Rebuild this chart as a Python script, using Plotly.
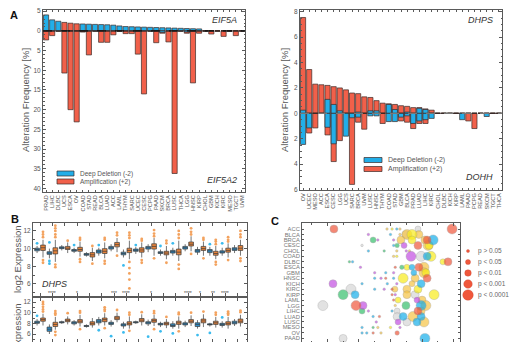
import plotly.graph_objects as go

# ======================= DATA =======================
# Panel A (left): EIF5A (up) / EIF5A2 (down)
cats_a1 = ["PRAD","LIHC","DLBC","UCS","ESCA","OV","COAD","STAD","READ","BLCA","LUAD","ACC","LAML",
           "THYM","SARC","UCEC","CESC","PCPG","PAAD","SKCM","BRCA","LUSC","THCA","LGG","HNSC","KIRP",
           "CHOL","GBM","KICH","KIRC","MESO","TGCT","UVM"]
eif5a_del = [4.05,2.8,2.45,0,0,0,1.75,1.7,1.65,1.6,1.55,1.45,1.25,1.1,1.05,1.0,0.95,0.9,0.85,0.8,
             0.75,0.7,0.65,0.6,0.55,0.5,0,0,0,0,0,0,0]
eif5a_amp = [0,0,0,2.15,1.95,1.8,0,0,0,0,0,0,0,0,0,0,0,0,0,0,0,0,0,0,0,0,0,0,0,0,0,0,0]
eif5a2_amp = [2.3,1.2,0,10.7,20.0,23.1,0.3,6.1,0,2.9,2.9,1.0,0,0.7,0.7,5.9,16.0,0,3.0,0.6,2.8,36.2,
              0,0.6,13.2,0.6,0,0.8,0,1.4,0,1.2,0]
eif5a2_del = [0,0,0,0,0,0,0,0,0,0,0,0,0,0,0,0,0,0,0,0.4,0,0,0,0.3,0,0,0,0,0,0,0,0,0]

# Panel A (right): DHPS (up) / DOHH (down)
cats_a2 = ["OV","UCEC","MESO","ACC","ESCA","CESC","LGG","UCS","SARC","BRCA","UVM","LUSC","HNSC",
           "THYM","COAD","STAD","GBM","BLCA","PRAD","LUAD","LIHC","KIRC","CHOL","DLBC","KICH","KIRP",
           "LAML","PAAD","PCPG","READ","SKCM","TGCT","THCA"]
dhps_amp = [7.55,3.45,2.3,2.25,2.2,2.1,2.0,1.85,1.6,1.55,1.3,1.25,1.0,0.8,0.75,0.7,0.6,0.55,0.45,
            0.45,0.35,0.25,0,0,0,0,0,0,0,0,0,0,0]
dhps_del = [0.25,0,0,0,1.1,0.7,0.2,0,0,0.1,0,0.2,0.2,0,0.7,0.3,0,0.1,0,0.4,0.3,0,0,0,0,0,0,0,0,0,0,0,0]
dohh_amp = [0,1.55,1.15,0,1.7,3.8,2.15,0,5.6,0.7,1.25,0,0,0.8,0,0,0.6,0.7,1.2,0.8,0.8,0,0,0,0,0,0,
            0.6,1.2,0,0,0,0]
dohh_del = [2.45,1.15,0,0,1.1,2.4,0,1.8,0.35,0.3,0,0.2,0.2,0,0.65,0.65,0.3,0.2,0.8,0.6,0.5,0.4,0,0,
            0,0,0.5,0,0,0,0.25,0,0]
tick_a1 = [5,0,-5,-10,-15,-20,-25,-30,-35,-40]
tick_a2 = [8,6,4,2,0,-2,-4,-6]

# Panel B: expression boxes (normal = blue, tumour = orange), 17 cancer types
pos_b = list(range(1, 18))
dhps_n_med = [9.9,9.5,10.1,9.8,9.35,9.7,10.1,9.45,9.8,10.1,9.55,9.65,10.1,9.75,9.75,9.6,9.95]
dhps_n_q1 = [9.75,9.35,10.0,9.7,9.25,9.5,9.95,9.3,9.7,9.95,9.45,9.5,9.95,9.6,9.55,9.5,9.8]
dhps_n_q3 = [10.05,9.65,10.2,9.9,9.45,9.85,10.25,9.6,9.95,10.25,9.65,9.8,10.25,9.9,9.9,9.75,10.1]
dhps_n_lo = [9.5,8.9,9.8,9.5,9.1,9.2,9.7,9.0,9.4,9.6,9.2,9.2,9.7,9.3,9.2,9.2,9.5]
dhps_n_hi = [10.3,10.0,10.4,10.1,9.6,10.1,10.5,9.9,10.2,10.5,9.9,10.1,10.5,10.2,10.2,10.1,10.4]
dhps_t_med = [10.1,9.75,10.05,9.9,9.3,9.7,10.45,9.8,9.85,10.25,9.5,9.6,10.5,10.0,9.45,9.8,10.05]
dhps_t_q1 = [9.8,9.4,9.9,9.7,9.05,9.45,10.2,9.55,9.6,9.95,9.3,9.3,10.3,9.8,9.25,9.6,9.8]
dhps_t_q3 = [10.4,10.1,10.25,10.15,9.55,10.0,10.7,10.05,10.1,10.55,9.7,9.95,10.75,10.25,9.7,10.05,10.35]
dhps_t_lo = [9.0,8.5,9.5,9.1,8.6,8.9,9.6,8.8,9.0,9.2,8.8,8.6,9.7,9.2,8.8,9.0,9.2]
dhps_t_hi = [11.0,11.0,10.7,10.8,10.1,10.7,11.2,10.9,10.7,11.2,10.3,10.9,11.4,10.8,10.3,10.6,11.0]
dhps_t_out = [[11.3,11.6,11.9,8.7,8.4],[11.3,11.6,12.0,12.3,12.6,8.2,7.9],[10.9],[11.0,11.2,8.8,8.5],
              [8.3,10.3],[11.0,11.2,8.6,8.3],[11.5,11.8,9.2],[11.2,11.5,11.8,8.5,7.8,7.2,6.5,5.5],
              [10.9,11.1,8.7,8.4],[11.4,11.7,12.1,8.9],[10.6,10.9,8.4],[11.2,11.6,12.0,8.2,7.7],
              [11.6,11.9,12.3,9.4],[11.0,11.2,8.9],[10.5,10.8,11.0,8.5,8.2],[10.8,11.0,11.3,8.7],
              [11.3,11.6,12.0,8.9,8.6]]
dhps_n_out = [[10.6],[10.7,8.6,8.3],[],[10.4],[],[10.4],[],[8.1],[10.4],[],[10.3],[10.6],[],[],
              [10.5],[10.6],[]]
dhps_stars = ["","****","","*","","","***","****","","*","","","****","*","**","****",""]

dohh_n_med = [8.2,6.9,8.2,8.1,7.5,8.4,8.0,7.7,8.2,8.1,7.85,7.6,7.9,7.8,7.8,7.8,8.1]
dohh_n_q1 = [8.0,6.5,8.1,7.9,7.4,8.1,7.8,7.5,8.1,7.9,7.7,7.4,7.7,7.4,7.7,7.6,7.9]
dohh_n_q3 = [8.4,7.3,8.3,8.3,7.6,8.7,8.2,7.9,8.3,8.3,8.0,7.9,8.1,8.1,7.9,8.0,8.4]
dohh_n_lo = [7.6,6.0,7.9,7.6,7.2,7.6,7.4,7.0,7.9,7.5,7.3,7.0,7.3,7.0,7.4,7.2,7.5]
dohh_n_hi = [8.8,7.8,8.5,8.6,7.8,9.2,8.6,8.3,8.5,8.7,8.3,8.4,8.5,8.6,8.1,8.4,8.8]
dohh_t_med = [8.7,7.8,8.55,8.4,8.0,8.7,9.0,8.0,8.6,8.5,7.95,8.1,8.4,8.45,8.1,8.0,8.4]
dohh_t_q1 = [8.4,7.4,8.3,8.1,7.7,8.3,8.7,7.7,8.3,8.2,7.7,7.8,8.1,8.1,7.8,7.7,8.1]
dohh_t_q3 = [9.0,8.2,8.8,8.7,8.3,9.0,9.3,8.3,8.9,8.8,8.2,8.4,8.7,8.8,8.4,8.3,8.8]
dohh_t_lo = [7.6,6.8,7.8,7.4,7.2,7.6,8.2,7.0,7.6,7.5,7.1,7.0,7.5,7.3,7.2,7.0,7.4]
dohh_t_hi = [9.8,9.2,9.3,9.6,9.0,9.9,10.0,9.3,9.7,9.6,8.8,9.3,9.5,9.7,9.2,9.2,9.6]
dohh_t_out = [[10.2,10.6,11.1,11.6,12.0],[9.6,9.9,10.3,6.4,5.8],[9.9],[10.0,10.3,6.9],[],
              [10.3,10.6,11.0,7.1],[10.5],[9.6,10.0,6.6],[10.1],[9.9,10.3,6.9],[9.2],[9.7,10.0,6.5],
              [10.0],[10.2],[9.6,10.0],[9.6,9.9,10.2],[10.1,10.4]]
dohh_n_out = [[9.4],[],[],[],[],[6.7],[5.6],[6.3],[],[5.5],[6.5],[6.1],[],[5.8],[6.2],[9.1],[]]

# Panel C: bubbles (cancer, effect, p-level 1..5)
cats_c = ["ACC","BLCA","BRCA","CESC","CHOL","COAD","DLBC","ESCA","GBM","HNSC","KICH","KIRC","KIRP",
          "LAML","LGG","LIHC","LUAD","LUSC","MESO","OV","PAAD","PCPG","PRAD","READ","SARC","SKCM",
          "STAD","TGCT","THCA","THYM","UCEC","UCS","UVM"]
bub_gray = [("ACC",0.87,3),("BLCA",0.49,4),("CESC",-0.9,1),("COAD",0.97,5),("KIRC",-1.25,5),
            ("KIRP",0.78,4),("LGG",-2.14,5),("LIHC",0.21,3),("LUAD",0.21,4),("LUSC",0.52,4),("PAAD",-1.5,4)]
bub_gold = [("ACC",-0.11,1),("ACC",0.3,1),("BLCA",0.52,5),("BLCA",0.9,4),("BLCA",0.3,1),("BRCA",0.33,4),
            ("BRCA",1.09,4),("CESC",1.19,5),("CHOL",0.2,1),("CHOL",0.6,1),("COAD",0.1,1),("ESCA",1.06,5),
            ("GBM",1.06,5),("HNSC",0.78,4),("KICH",0.68,3),("KIRC",0.14,3),("KIRC",0.52,4),("KIRP",0.52,4),
            ("LAML",1.0,4),("LGG",1.12,5),("LGG",0.15,1),("LIHC",0.97,4),("LUAD",0.71,5),("LUSC",1.06,5),
            ("MESO",-0.4,1),("OV",-0.3,1)]
bub_yellow = [("ACC",0.05,1),("BLCA",0.68,5),("BRCA",0.68,4),("CESC",1.22,4),("COAD",1.28,5),
              ("COAD",0.2,1),("DLBC",1.66,3),("ESCA",0.52,3),("GBM",1.12,4),("HNSC",0.4,5),
              ("KIRC",0.87,4),("KIRP",1.38,5),("LAML",0.24,3),("MESO",0.0,1)]
bub_blue = [("ACC",0.2,1),("BLCA",0.0,1),("BRCA",1.35,5),("CESC",0.1,1),("CHOL",-0.7,1),("COAD",1.16,4),
            ("DLBC",-1.2,1),("ESCA",0.68,3),("GBM",0.74,3),("GBM",-0.15,1),("HNSC",-0.5,1),("HNSC",0.1,1),
            ("KICH",0.97,4),("KICH",-0.9,1),("KICH",-0.1,1),("KIRC",-0.5,1),("KIRP",-1.12,4),("LGG",0.97,5),
            ("LIHC",0.05,1),("LUAD",0.4,4),("LUAD",0.97,4),("LUAD",-0.55,1),("LUSC",0.84,4),("MESO",-0.9,1),
            ("OV",-0.9,1),("OV",-0.75,1),("PAAD",1.09,5)]
bub_green = [("BRCA",-0.55,3),("CESC",0.21,2),("CHOL",-0.2,1),("DLBC",-1.3,1),("ESCA",0.36,2),
             ("KIRP",-1.5,5),("LGG",0.49,4),("LIHC",-0.9,3),("MESO",-0.55,1)]
bub_purple = [("BLCA",-0.7,1),("BRCA",-0.4,1),("BRCA",0.1,1),("CESC",0.43,3),("CHOL",0.5,1),("COAD",0.65,5),
              ("ESCA",-0.95,1),("GBM",-0.5,1),("GBM",0.1,1),("HNSC",-0.3,1),("KICH",-1.82,4),("KICH",0.2,1),
              ("KIRC",-0.2,1),("KIRP",0.15,1),("LAML",0.84,3),("LGG",-0.87,4),("LIHC",-0.7,1),("LUSC",0.24,3),
              ("LUSC",-0.45,1),("MESO",0.3,1)]
bub_red = [("ACC",-1.79,4),("ACC",1.95,5),("BRCA",1.16,4),("CESC",0.87,4),("DLBC",1.82,4),("ESCA",0.9,4),
           ("HNSC",1.16,4),("LGG",-1.09,5),("LIHC",0.87,4),("OV",0.21,2),("ESCA",0.15,1),("HNSC",-0.15,1),
           ("KIRC",0.05,1),("KIRP",0.05,1),("LAML",0.1,1),("LUAD",-0.35,1),("OV",-0.55,1)]
p_labels = ["p > 0.05","p < 0.05","p < 0.01","p < 0.001","p < 0.0001"]

# ======================= STYLE =======================
W, H = 513, 342
def px(x): return x / W
def py(y): return 1 - y / H

FONT = "Liberation Sans, Arial, sans-serif"
BLUE = "#22aee8"
RED = "#f1604a"
EDGE = "#3b2b28"
AX = "#5a5a5a"
TXT = "#555555"
SIZE = {1: 2.5, 2: 4.5, 3: 6, 4: 8, 5: 10}

fig = go.Figure()

# ---- Panel A bars ----
def bars(cats, up_amp, up_del, dn_amp, dn_del, xa, ya):
    for vals, col, sign in [(up_amp, RED, 1), (dn_amp, RED, -1), (up_del, BLUE, 1), (dn_del, BLUE, -1)]:
        fig.add_trace(go.Bar(x=cats, y=[sign * v for v in vals], marker=dict(color=col, line=dict(color=EDGE, width=0.7)),
                             xaxis=xa, yaxis=ya, showlegend=False, hoverinfo="skip"))

bars(cats_a1, eif5a_amp, eif5a_del, eif5a2_amp, eif5a2_del, "x", "y")
bars(cats_a2, dhps_amp, dhps_del, dohh_amp, dohh_del, "x2", "y2")

# ---- Panel B boxes ----
def boxes(q1, med, q3, lo, hi, off, fill, xa, ya):
    fig.add_trace(go.Box(x=[p + off for p in pos_b], q1=q1, median=med, q3=q3, lowerfence=lo, upperfence=hi,
                         width=0.38, fillcolor=fill, line=dict(color="#3a3a3a", width=0.7), whiskerwidth=0,
                         boxpoints=False, xaxis=xa, yaxis=ya, showlegend=False, hoverinfo="skip"))

def outliers(outs, off, col, xa, ya):
    xs, ys = [], []
    for p, vals in zip(pos_b, outs):
        xs += [p + off] * len(vals)
        ys += vals
    fig.add_trace(go.Scatter(x=xs, y=ys, mode="markers", marker=dict(color=col, size=2.8),
                             xaxis=xa, yaxis=ya, showlegend=False, hoverinfo="skip"))

NB, TB = "#2d8fcc", "#e8833a"
outliers(dhps_n_out, -0.24, "#3bbbee", "x3", "y3")
outliers(dhps_t_out, 0.24, "#f3a25e", "x3", "y3")
boxes(dhps_n_q1, dhps_n_med, dhps_n_q3, dhps_n_lo, dhps_n_hi, -0.24, NB, "x3", "y3")
boxes(dhps_t_q1, dhps_t_med, dhps_t_q3, dhps_t_lo, dhps_t_hi, 0.24, TB, "x3", "y3")
outliers(dohh_n_out, -0.24, "#3bbbee", "x4", "y4")
outliers(dohh_t_out, 0.24, "#f3a25e", "x4", "y4")
boxes(dohh_n_q1, dohh_n_med, dohh_n_q3, dohh_n_lo, dohh_n_hi, -0.24, NB, "x4", "y4")
boxes(dohh_t_q1, dohh_t_med, dohh_t_q3, dohh_t_lo, dohh_t_hi, 0.24, TB, "x4", "y4")

# ---- Panel C bubbles ----
for data, col in [(bub_gray, "#d6d6d6"), (bub_gold, "#f6c444"), (bub_yellow, "#f8ec1c"), (bub_blue, "#17aeea"),
                  (bub_green, "#36bf6c"), (bub_purple, "#c24ee2"), (bub_red, "#f0573b")]:
    fig.add_trace(go.Scatter(x=[d[1] for d in data], y=[d[0] for d in data], mode="markers",
                             marker=dict(color=col, size=[SIZE[d[2]] for d in data], line=dict(color="#8a8a8a", width=0.4)),
                             xaxis="x5", yaxis="y5", showlegend=False, hoverinfo="skip"))

# ======================= LAYOUT =======================
def ax(**kw):
    base = dict(showline=True, mirror="allticks", linecolor=AX, linewidth=1, ticks="inside", ticklen=3,
                tickcolor=AX, showgrid=False, zeroline=False, automargin=False,
                tickfont=dict(family=FONT, size=6.5, color=TXT))
    base.update(kw)
    return base

minor = lambda d: dict(ticks="inside", ticklen=1.5, tickcolor=AX, dtick=d, tick0=0, showgrid=False)

fig.update_layout(
    width=W, height=H, margin=dict(l=0, r=0, t=0, b=0), paper_bgcolor="white", plot_bgcolor="white",
    barmode="overlay", bargap=0.16, font=dict(family=FONT, color=TXT),
    xaxis=ax(domain=[px(43), px(245)], anchor="y", type="category", tickangle=-90, ticklen=2,
             tickmode="array", tickvals=cats_a1, ticktext=cats_a1,
             tickfont=dict(family=FONT, size=5.6, color=TXT)),
    yaxis=ax(domain=[py(192), py(10)], anchor="x", range=[-40.9, 5.3], tickmode="array", tickvals=tick_a1,
             ticktext=[str(abs(v)) for v in tick_a1], minor=minor(1)),
    xaxis2=ax(domain=[px(300), px(502)], anchor="y2", type="category", tickangle=-90, ticklen=2,
              tickmode="array", tickvals=cats_a2, ticktext=cats_a2,
              tickfont=dict(family=FONT, size=5.6, color=TXT)),
    yaxis2=ax(domain=[py(190), py(10)], anchor="x2", range=[-6.04, 8.14], tickmode="array", tickvals=tick_a2,
              ticktext=[str(abs(v)) for v in tick_a2], minor=minor(0.5)),
    xaxis3=ax(domain=[px(33), px(247)], anchor="y3", range=[0.43, 17.77], tickvals=pos_b, showticklabels=False),
    yaxis3=ax(domain=[py(296), py(223)], anchor="x3", range=[4.64, 12.9], tickvals=[6, 8, 10, 12],
              minor=minor(1)),
    xaxis4=ax(domain=[px(33), px(247)], anchor="y4", range=[0.43, 17.77], tickvals=pos_b, showticklabels=False),
    yaxis4=ax(domain=[0, py(298)], anchor="x4", range=[4.5, 12.75], tickvals=[6, 8, 10, 12], minor=minor(1)),
    xaxis5=ax(domain=[px(302), px(460)], anchor="y5", range=[-2.8, 2.2], dtick=1, showticklabels=False,
              minor=minor(0.5)),
    yaxis5=ax(domain=[0, py(223)], anchor="x5", type="category", categoryorder="array", categoryarray=cats_c,
              tickmode="array", tickvals=cats_c, ticktext=cats_c,
              range=[20.66, -1.1], ticklen=2, tickfont=dict(family=FONT, size=5.8, color="#777")),
)

shapes = [
    dict(type="line", xref="x domain", yref="y", x0=0, x1=1, y0=0, y1=0, line=dict(color="#111", width=1.3, dash="dash")),
    dict(type="line", xref="x2 domain", yref="y2", x0=0, x1=1, y0=0, y1=0, line=dict(color="#777", width=1.2, dash="dash")),
]
# legend swatches panel A
for (x0, x1, yb, yr) in [(57, 74, 171, 179), (364, 382, 157.5, 166.5)]:
    shapes.append(dict(type="rect", xref="paper", yref="paper", x0=px(x0), x1=px(x1), y0=py(yb + 5), y1=py(yb),
                       fillcolor=BLUE, line=dict(color=EDGE, width=0.7)))
    shapes.append(dict(type="rect", xref="paper", yref="paper", x0=px(x0), x1=px(x1), y0=py(yr + 5), y1=py(yr),
                       fillcolor=RED, line=dict(color=EDGE, width=0.7)))
# legend circles panel C
annotations = []
for i, lab in enumerate(p_labels):
    cy = 251 + 11 * i
    r = SIZE[i + 1] / 2 + 0.3
    shapes.append(dict(type="circle", xref="paper", yref="paper", x0=px(468 - r), x1=px(468 + r),
                       y0=py(cy + r), y1=py(cy - r), fillcolor="#f0573b", line=dict(color="#c04030", width=0.3)))
    annotations.append(dict(text=lab, x=px(476), y=py(cy), xref="paper", yref="paper", xanchor="left",
                            yanchor="middle", showarrow=False, font=dict(family=FONT, size=6.5, color="#666")))

def ann(text, x, y, size=9, xanchor="center", angle=0, italic=False, bold=False, color=TXT):
    if italic:
        text = "<i>" + text + "</i>"
    if bold:
        text = "<b>" + text + "</b>"
    annotations.append(dict(text=text, x=px(x), y=py(y), xref="paper", yref="paper", xanchor=xanchor,
                            yanchor="middle", textangle=angle, showarrow=False,
                            font=dict(family=FONT, size=size, color=color)))

ann("A", 14, 15, size=11, bold=True, color="#111")
ann("B", 15, 219, size=11, bold=True, color="#111")
ann("C", 275, 221, size=11, bold=True, color="#111")
ann("EIF5A", 239, 20, size=9, xanchor="right", italic=True, color="#333")
ann("EIF5A2", 239, 180, size=9, xanchor="right", italic=True, color="#333")
ann("DHPS", 495, 20, size=9, xanchor="right", italic=True, color="#333")
ann("DOHH", 495, 177, size=9, xanchor="right", italic=True, color="#333")
ann("DHPS", 40, 284, size=9, xanchor="left", italic=True, color="#333")
ann("Alteration Frequency [%]", 25, 100, size=9.5, angle=-90)
ann("Alteration Frequency [%]", 284, 100, size=9.5, angle=-90)
ann("log2 Expression", 17, 259, size=9.5, angle=-90)
ann("log2 Expression", 17, 337, size=9.5, angle=-90)
ann("Deep Deletion (-2)", 78, 173.5, size=6.5, xanchor="left")
ann("Amplification (+2)", 78, 181.5, size=6.5, xanchor="left")
ann("Deep Deletion (-2)", 386, 160, size=7, xanchor="left")
ann("Amplification (+2)", 386, 169, size=7, xanchor="left")

for p, s in zip(pos_b, dhps_stars):
    if s:
        annotations.append(dict(text=s, x=p, y=5.0, xref="x3", yref="y3", showarrow=False,
                                font=dict(family=FONT, size=5, color="#444")))

fig.update_layout(shapes=shapes, annotations=annotations)
fig.write_html("out.html")
